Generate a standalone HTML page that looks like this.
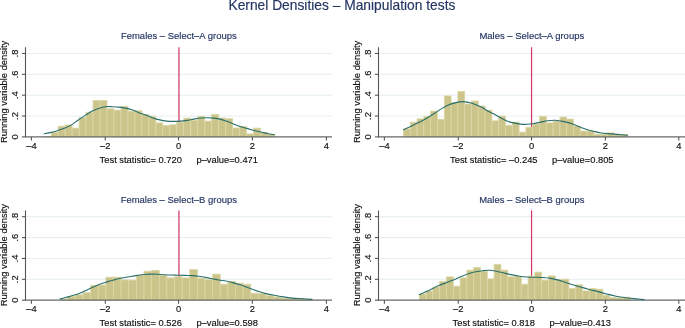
<!DOCTYPE html><html><head><meta charset="utf-8"><title>Kernel Densities – Manipulation tests</title><style>html,body{margin:0;padding:0;background:#fff;width:685px;height:328px;overflow:hidden}svg{display:block;will-change:transform}text{font-family:"Liberation Sans", sans-serif}</style></head><body>
<svg width="685" height="328" viewBox="0 0 685 328">
<rect width="685" height="328" fill="#fff"/>
<text transform="translate(341.90 10.35) scale(1 1.100)" font-size="13.80" fill="#253563" stroke="#253563" stroke-width="0.15" text-anchor="middle">Kernel Densities – Manipulation tests</text>
<g><line x1="25.50" y1="116.04" x2="332.00" y2="116.04" stroke="#e5eeef" stroke-width="1"/><line x1="25.50" y1="95.18" x2="332.00" y2="95.18" stroke="#e5eeef" stroke-width="1"/><line x1="25.50" y1="74.32" x2="332.00" y2="74.32" stroke="#e5eeef" stroke-width="1"/><line x1="25.50" y1="53.46" x2="332.00" y2="53.46" stroke="#e5eeef" stroke-width="1"/><line x1="178.95" y1="47.20" x2="178.95" y2="136.90" stroke="#d03a64" stroke-width="1.25"/><rect x="44.20" y="136.40" width="6.98" height="0.50" fill="#cbc58b" stroke="#dcd7a5" stroke-width="0.8"/><rect x="51.18" y="132.30" width="6.98" height="4.60" fill="#cbc58b" stroke="#dcd7a5" stroke-width="0.8"/><rect x="58.16" y="126.20" width="6.98" height="10.70" fill="#cbc58b" stroke="#dcd7a5" stroke-width="0.8"/><rect x="65.14" y="124.90" width="6.98" height="12.00" fill="#cbc58b" stroke="#dcd7a5" stroke-width="0.8"/><rect x="72.12" y="128.10" width="6.98" height="8.80" fill="#cbc58b" stroke="#dcd7a5" stroke-width="0.8"/><rect x="79.10" y="117.70" width="6.98" height="19.20" fill="#cbc58b" stroke="#dcd7a5" stroke-width="0.8"/><rect x="86.08" y="112.20" width="6.98" height="24.70" fill="#cbc58b" stroke="#dcd7a5" stroke-width="0.8"/><rect x="93.06" y="100.50" width="6.98" height="36.40" fill="#cbc58b" stroke="#dcd7a5" stroke-width="0.8"/><rect x="100.04" y="100.50" width="6.98" height="36.40" fill="#cbc58b" stroke="#dcd7a5" stroke-width="0.8"/><rect x="107.02" y="108.80" width="6.98" height="28.10" fill="#cbc58b" stroke="#dcd7a5" stroke-width="0.8"/><rect x="114.00" y="110.10" width="6.98" height="26.80" fill="#cbc58b" stroke="#dcd7a5" stroke-width="0.8"/><rect x="120.98" y="106.30" width="6.98" height="30.60" fill="#cbc58b" stroke="#dcd7a5" stroke-width="0.8"/><rect x="127.96" y="111.10" width="6.98" height="25.80" fill="#cbc58b" stroke="#dcd7a5" stroke-width="0.8"/><rect x="134.94" y="110.80" width="6.98" height="26.10" fill="#cbc58b" stroke="#dcd7a5" stroke-width="0.8"/><rect x="141.92" y="114.30" width="6.98" height="22.60" fill="#cbc58b" stroke="#dcd7a5" stroke-width="0.8"/><rect x="148.90" y="116.30" width="6.98" height="20.60" fill="#cbc58b" stroke="#dcd7a5" stroke-width="0.8"/><rect x="155.88" y="122.90" width="6.98" height="14.00" fill="#cbc58b" stroke="#dcd7a5" stroke-width="0.8"/><rect x="162.86" y="125.60" width="6.98" height="11.30" fill="#cbc58b" stroke="#dcd7a5" stroke-width="0.8"/><rect x="169.84" y="124.80" width="6.98" height="12.10" fill="#cbc58b" stroke="#dcd7a5" stroke-width="0.8"/><rect x="176.82" y="122.10" width="6.98" height="14.80" fill="#cbc58b" stroke="#dcd7a5" stroke-width="0.8"/><rect x="183.80" y="118.10" width="6.98" height="18.80" fill="#cbc58b" stroke="#dcd7a5" stroke-width="0.8"/><rect x="190.78" y="120.40" width="6.98" height="16.50" fill="#cbc58b" stroke="#dcd7a5" stroke-width="0.8"/><rect x="197.76" y="116.30" width="6.98" height="20.60" fill="#cbc58b" stroke="#dcd7a5" stroke-width="0.8"/><rect x="204.74" y="121.10" width="6.98" height="15.80" fill="#cbc58b" stroke="#dcd7a5" stroke-width="0.8"/><rect x="211.72" y="114.30" width="6.98" height="22.60" fill="#cbc58b" stroke="#dcd7a5" stroke-width="0.8"/><rect x="218.70" y="118.00" width="6.98" height="18.90" fill="#cbc58b" stroke="#dcd7a5" stroke-width="0.8"/><rect x="225.68" y="118.70" width="6.98" height="18.20" fill="#cbc58b" stroke="#dcd7a5" stroke-width="0.8"/><rect x="232.66" y="128.00" width="6.98" height="8.90" fill="#cbc58b" stroke="#dcd7a5" stroke-width="0.8"/><rect x="239.64" y="126.30" width="6.98" height="10.60" fill="#cbc58b" stroke="#dcd7a5" stroke-width="0.8"/><rect x="246.62" y="133.90" width="6.98" height="3.00" fill="#cbc58b" stroke="#dcd7a5" stroke-width="0.8"/><rect x="253.60" y="128.10" width="6.98" height="8.80" fill="#cbc58b" stroke="#dcd7a5" stroke-width="0.8"/><rect x="260.58" y="132.30" width="6.98" height="4.60" fill="#cbc58b" stroke="#dcd7a5" stroke-width="0.8"/><rect x="267.56" y="134.50" width="6.98" height="2.40" fill="#cbc58b" stroke="#dcd7a5" stroke-width="0.8"/><line x1="25.50" y1="136.90" x2="332.00" y2="136.90" stroke="#666a6a" stroke-width="1.1"/><path d="M44.20 133.80 C45.33 133.57 48.70 132.97 51.00 132.40 C53.30 131.83 55.67 131.13 58.00 130.40 C60.33 129.67 62.75 128.92 65.00 128.00 C67.25 127.08 69.33 126.20 71.50 124.90 C73.67 123.60 75.77 121.75 78.00 120.20 C80.23 118.65 82.62 117.10 84.90 115.60 C87.18 114.10 89.42 112.38 91.70 111.20 C93.98 110.02 96.32 109.25 98.60 108.50 C100.88 107.75 103.12 107.00 105.40 106.70 C107.68 106.40 110.05 106.63 112.30 106.70 C114.55 106.77 116.67 106.87 118.90 107.10 C121.13 107.33 123.42 107.60 125.70 108.10 C127.98 108.60 130.32 109.30 132.60 110.10 C134.88 110.90 137.12 112.05 139.40 112.90 C141.68 113.75 144.05 114.37 146.30 115.20 C148.55 116.03 150.67 117.12 152.90 117.90 C155.13 118.68 157.42 119.37 159.70 119.90 C161.98 120.43 164.32 120.85 166.60 121.10 C168.88 121.35 171.12 121.40 173.40 121.40 C175.68 121.40 178.05 121.27 180.30 121.10 C182.55 120.93 184.67 120.73 186.90 120.40 C189.13 120.07 191.42 119.50 193.70 119.10 C195.98 118.70 198.32 118.23 200.60 118.00 C202.88 117.77 205.12 117.68 207.40 117.70 C209.68 117.72 212.20 117.87 214.30 118.10 C216.40 118.33 218.05 118.62 220.00 119.10 C221.95 119.58 223.83 120.22 226.00 121.00 C228.17 121.78 230.67 122.90 233.00 123.80 C235.33 124.70 237.67 125.63 240.00 126.40 C242.33 127.17 244.67 127.72 247.00 128.40 C249.33 129.08 251.50 129.85 254.00 130.50 C256.50 131.15 259.67 131.77 262.00 132.30 C264.33 132.83 265.90 133.30 268.00 133.70 C270.10 134.10 273.50 134.53 274.60 134.70" fill="none" stroke="#2a6f6c" stroke-width="1.1" stroke-linejoin="round" stroke-linecap="round"/><line x1="25.50" y1="47.20" x2="25.50" y2="137.40" stroke="#555555" stroke-width="1.1"/><line x1="21.90" y1="136.90" x2="25.50" y2="136.90" stroke="#555555" stroke-width="1.1"/><text transform="translate(17.80 136.90) rotate(-90) scale(1 1.050)" font-size="9.35" fill="#111111" stroke="#111111" stroke-width="0.15" text-anchor="middle">0</text><line x1="21.90" y1="116.04" x2="25.50" y2="116.04" stroke="#555555" stroke-width="1.1"/><text transform="translate(17.80 116.04) rotate(-90) scale(1 1.050)" font-size="9.35" fill="#111111" stroke="#111111" stroke-width="0.15" text-anchor="middle">.2</text><line x1="21.90" y1="95.18" x2="25.50" y2="95.18" stroke="#555555" stroke-width="1.1"/><text transform="translate(17.80 95.18) rotate(-90) scale(1 1.050)" font-size="9.35" fill="#111111" stroke="#111111" stroke-width="0.15" text-anchor="middle">.4</text><line x1="21.90" y1="74.32" x2="25.50" y2="74.32" stroke="#555555" stroke-width="1.1"/><text transform="translate(17.80 74.32) rotate(-90) scale(1 1.050)" font-size="9.35" fill="#111111" stroke="#111111" stroke-width="0.15" text-anchor="middle">.6</text><line x1="21.90" y1="53.46" x2="25.50" y2="53.46" stroke="#555555" stroke-width="1.1"/><text transform="translate(17.80 53.46) rotate(-90) scale(1 1.050)" font-size="9.35" fill="#111111" stroke="#111111" stroke-width="0.15" text-anchor="middle">.8</text><line x1="31.40" y1="136.90" x2="31.40" y2="140.50" stroke="#555555" stroke-width="1.1"/><text transform="translate(31.40 148.80) scale(1 1.050)" font-size="9.35" fill="#111111" stroke="#111111" stroke-width="0.15" text-anchor="middle">–4</text><line x1="105.30" y1="136.90" x2="105.30" y2="140.50" stroke="#555555" stroke-width="1.1"/><text transform="translate(105.30 148.80) scale(1 1.050)" font-size="9.35" fill="#111111" stroke="#111111" stroke-width="0.15" text-anchor="middle">–2</text><line x1="178.55" y1="136.90" x2="178.55" y2="140.50" stroke="#555555" stroke-width="1.1"/><text transform="translate(178.55 148.80) scale(1 1.050)" font-size="9.35" fill="#111111" stroke="#111111" stroke-width="0.15" text-anchor="middle">0</text><line x1="252.40" y1="136.90" x2="252.40" y2="140.50" stroke="#555555" stroke-width="1.1"/><text transform="translate(252.40 148.80) scale(1 1.050)" font-size="9.35" fill="#111111" stroke="#111111" stroke-width="0.15" text-anchor="middle">2</text><line x1="326.40" y1="136.90" x2="326.40" y2="140.50" stroke="#555555" stroke-width="1.1"/><text transform="translate(326.40 148.80) scale(1 1.050)" font-size="9.35" fill="#111111" stroke="#111111" stroke-width="0.15" text-anchor="middle">4</text><text transform="translate(6.90 91.90) rotate(-90) scale(1 1.050)" font-size="9.35" fill="#111111" stroke="#111111" stroke-width="0.15" text-anchor="middle">Running variable density</text><text transform="translate(178.80 39.25) scale(1 1.050)" font-size="9.48" fill="#253563" stroke="#253563" stroke-width="0.15" text-anchor="middle">Females – Select–A groups</text><text transform="translate(178.80 162.60) scale(1 1.050)" font-size="9.35" fill="#111111" stroke="#111111" stroke-width="0.15" text-anchor="middle">Test statistic= 0.720<tspan dx="14.5">p–value=0.471</tspan></text></g>
<g><line x1="378.50" y1="116.04" x2="685.00" y2="116.04" stroke="#e5eeef" stroke-width="1"/><line x1="378.50" y1="95.18" x2="685.00" y2="95.18" stroke="#e5eeef" stroke-width="1"/><line x1="378.50" y1="74.32" x2="685.00" y2="74.32" stroke="#e5eeef" stroke-width="1"/><line x1="378.50" y1="53.46" x2="685.00" y2="53.46" stroke="#e5eeef" stroke-width="1"/><line x1="531.55" y1="47.20" x2="531.55" y2="136.90" stroke="#d03a64" stroke-width="1.25"/><rect x="403.50" y="128.90" width="6.80" height="8.00" fill="#cbc58b" stroke="#dcd7a5" stroke-width="0.8"/><rect x="410.30" y="122.20" width="6.80" height="14.70" fill="#cbc58b" stroke="#dcd7a5" stroke-width="0.8"/><rect x="417.10" y="118.80" width="6.80" height="18.10" fill="#cbc58b" stroke="#dcd7a5" stroke-width="0.8"/><rect x="423.90" y="116.30" width="6.80" height="20.60" fill="#cbc58b" stroke="#dcd7a5" stroke-width="0.8"/><rect x="430.70" y="111.10" width="6.80" height="25.80" fill="#cbc58b" stroke="#dcd7a5" stroke-width="0.8"/><rect x="437.50" y="119.30" width="6.80" height="17.60" fill="#cbc58b" stroke="#dcd7a5" stroke-width="0.8"/><rect x="444.30" y="95.90" width="6.80" height="41.00" fill="#cbc58b" stroke="#dcd7a5" stroke-width="0.8"/><rect x="451.10" y="102.50" width="6.80" height="34.40" fill="#cbc58b" stroke="#dcd7a5" stroke-width="0.8"/><rect x="457.90" y="91.40" width="6.80" height="45.50" fill="#cbc58b" stroke="#dcd7a5" stroke-width="0.8"/><rect x="464.70" y="104.00" width="6.80" height="32.90" fill="#cbc58b" stroke="#dcd7a5" stroke-width="0.8"/><rect x="471.50" y="101.00" width="6.80" height="35.90" fill="#cbc58b" stroke="#dcd7a5" stroke-width="0.8"/><rect x="478.30" y="106.00" width="6.80" height="30.90" fill="#cbc58b" stroke="#dcd7a5" stroke-width="0.8"/><rect x="485.10" y="110.10" width="6.80" height="26.80" fill="#cbc58b" stroke="#dcd7a5" stroke-width="0.8"/><rect x="491.90" y="120.80" width="6.80" height="16.10" fill="#cbc58b" stroke="#dcd7a5" stroke-width="0.8"/><rect x="498.70" y="116.10" width="6.80" height="20.80" fill="#cbc58b" stroke="#dcd7a5" stroke-width="0.8"/><rect x="505.50" y="125.20" width="6.80" height="11.70" fill="#cbc58b" stroke="#dcd7a5" stroke-width="0.8"/><rect x="512.30" y="122.10" width="6.80" height="14.80" fill="#cbc58b" stroke="#dcd7a5" stroke-width="0.8"/><rect x="519.10" y="132.10" width="6.80" height="4.80" fill="#cbc58b" stroke="#dcd7a5" stroke-width="0.8"/><rect x="525.90" y="127.30" width="6.80" height="9.60" fill="#cbc58b" stroke="#dcd7a5" stroke-width="0.8"/><rect x="532.70" y="124.00" width="6.80" height="12.90" fill="#cbc58b" stroke="#dcd7a5" stroke-width="0.8"/><rect x="539.50" y="116.30" width="6.80" height="20.60" fill="#cbc58b" stroke="#dcd7a5" stroke-width="0.8"/><rect x="546.30" y="122.90" width="6.80" height="14.00" fill="#cbc58b" stroke="#dcd7a5" stroke-width="0.8"/><rect x="553.10" y="121.10" width="6.80" height="15.80" fill="#cbc58b" stroke="#dcd7a5" stroke-width="0.8"/><rect x="559.90" y="117.00" width="6.80" height="19.90" fill="#cbc58b" stroke="#dcd7a5" stroke-width="0.8"/><rect x="566.70" y="119.10" width="6.80" height="17.80" fill="#cbc58b" stroke="#dcd7a5" stroke-width="0.8"/><rect x="573.50" y="126.00" width="6.80" height="10.90" fill="#cbc58b" stroke="#dcd7a5" stroke-width="0.8"/><rect x="580.30" y="131.00" width="6.80" height="5.90" fill="#cbc58b" stroke="#dcd7a5" stroke-width="0.8"/><rect x="587.10" y="131.00" width="6.80" height="5.90" fill="#cbc58b" stroke="#dcd7a5" stroke-width="0.8"/><rect x="593.90" y="134.20" width="6.80" height="2.70" fill="#cbc58b" stroke="#dcd7a5" stroke-width="0.8"/><rect x="600.70" y="134.20" width="6.80" height="2.70" fill="#cbc58b" stroke="#dcd7a5" stroke-width="0.8"/><rect x="607.50" y="132.90" width="6.80" height="4.00" fill="#cbc58b" stroke="#dcd7a5" stroke-width="0.8"/><rect x="614.30" y="134.30" width="6.80" height="2.60" fill="#cbc58b" stroke="#dcd7a5" stroke-width="0.8"/><rect x="621.10" y="134.50" width="6.80" height="2.40" fill="#cbc58b" stroke="#dcd7a5" stroke-width="0.8"/><line x1="378.50" y1="136.90" x2="685.00" y2="136.90" stroke="#666a6a" stroke-width="1.1"/><path d="M403.50 129.80 C404.87 129.15 409.18 127.12 411.70 125.90 C414.22 124.68 416.32 123.65 418.60 122.50 C420.88 121.35 423.12 120.28 425.40 119.00 C427.68 117.72 430.12 116.20 432.30 114.80 C434.48 113.40 436.02 112.15 438.50 110.60 C440.98 109.05 444.47 106.78 447.20 105.50 C449.93 104.22 452.35 103.55 454.90 102.90 C457.45 102.25 459.65 101.55 462.50 101.60 C465.35 101.65 468.88 102.28 472.00 103.20 C475.12 104.12 478.38 105.70 481.20 107.10 C484.02 108.50 486.35 110.22 488.90 111.60 C491.45 112.98 493.50 113.85 496.50 115.40 C499.50 116.95 504.03 119.65 506.90 120.90 C509.77 122.15 511.42 122.37 513.70 122.90 C515.98 123.43 518.32 123.87 520.60 124.10 C522.88 124.33 525.12 124.42 527.40 124.30 C529.68 124.18 532.05 123.77 534.30 123.40 C536.55 123.03 538.67 122.53 540.90 122.10 C543.13 121.67 545.42 121.12 547.70 120.80 C549.98 120.48 552.32 120.15 554.60 120.20 C556.88 120.25 559.12 120.70 561.40 121.10 C563.68 121.50 566.32 122.07 568.30 122.60 C570.28 123.13 571.57 123.65 573.30 124.30 C575.03 124.95 576.92 125.78 578.70 126.50 C580.48 127.22 582.23 127.97 584.00 128.60 C585.77 129.23 587.52 129.80 589.30 130.30 C591.08 130.80 592.92 131.20 594.70 131.60 C596.48 132.00 597.78 132.37 600.00 132.70 C602.22 133.03 605.17 133.32 608.00 133.60 C610.83 133.88 613.75 134.13 617.00 134.40 C620.25 134.67 625.75 135.07 627.50 135.20" fill="none" stroke="#2a6f6c" stroke-width="1.1" stroke-linejoin="round" stroke-linecap="round"/><line x1="378.50" y1="47.20" x2="378.50" y2="137.40" stroke="#555555" stroke-width="1.1"/><line x1="374.90" y1="136.90" x2="378.50" y2="136.90" stroke="#555555" stroke-width="1.1"/><text transform="translate(370.80 136.90) rotate(-90) scale(1 1.050)" font-size="9.35" fill="#111111" stroke="#111111" stroke-width="0.15" text-anchor="middle">0</text><line x1="374.90" y1="116.04" x2="378.50" y2="116.04" stroke="#555555" stroke-width="1.1"/><text transform="translate(370.80 116.04) rotate(-90) scale(1 1.050)" font-size="9.35" fill="#111111" stroke="#111111" stroke-width="0.15" text-anchor="middle">.2</text><line x1="374.90" y1="95.18" x2="378.50" y2="95.18" stroke="#555555" stroke-width="1.1"/><text transform="translate(370.80 95.18) rotate(-90) scale(1 1.050)" font-size="9.35" fill="#111111" stroke="#111111" stroke-width="0.15" text-anchor="middle">.4</text><line x1="374.90" y1="74.32" x2="378.50" y2="74.32" stroke="#555555" stroke-width="1.1"/><text transform="translate(370.80 74.32) rotate(-90) scale(1 1.050)" font-size="9.35" fill="#111111" stroke="#111111" stroke-width="0.15" text-anchor="middle">.6</text><line x1="374.90" y1="53.46" x2="378.50" y2="53.46" stroke="#555555" stroke-width="1.1"/><text transform="translate(370.80 53.46) rotate(-90) scale(1 1.050)" font-size="9.35" fill="#111111" stroke="#111111" stroke-width="0.15" text-anchor="middle">.8</text><line x1="384.40" y1="136.90" x2="384.40" y2="140.50" stroke="#555555" stroke-width="1.1"/><text transform="translate(384.40 148.80) scale(1 1.050)" font-size="9.35" fill="#111111" stroke="#111111" stroke-width="0.15" text-anchor="middle">–4</text><line x1="458.30" y1="136.90" x2="458.30" y2="140.50" stroke="#555555" stroke-width="1.1"/><text transform="translate(458.30 148.80) scale(1 1.050)" font-size="9.35" fill="#111111" stroke="#111111" stroke-width="0.15" text-anchor="middle">–2</text><line x1="531.55" y1="136.90" x2="531.55" y2="140.50" stroke="#555555" stroke-width="1.1"/><text transform="translate(531.55 148.80) scale(1 1.050)" font-size="9.35" fill="#111111" stroke="#111111" stroke-width="0.15" text-anchor="middle">0</text><line x1="605.40" y1="136.90" x2="605.40" y2="140.50" stroke="#555555" stroke-width="1.1"/><text transform="translate(605.40 148.80) scale(1 1.050)" font-size="9.35" fill="#111111" stroke="#111111" stroke-width="0.15" text-anchor="middle">2</text><line x1="678.80" y1="136.90" x2="678.80" y2="140.50" stroke="#555555" stroke-width="1.1"/><text transform="translate(678.80 148.80) scale(1 1.050)" font-size="9.35" fill="#111111" stroke="#111111" stroke-width="0.15" text-anchor="middle">4</text><text transform="translate(359.90 91.90) rotate(-90) scale(1 1.050)" font-size="9.35" fill="#111111" stroke="#111111" stroke-width="0.15" text-anchor="middle">Running variable density</text><text transform="translate(531.80 39.25) scale(1 1.050)" font-size="9.48" fill="#253563" stroke="#253563" stroke-width="0.15" text-anchor="middle">Males – Select–A groups</text><text transform="translate(531.80 162.60) scale(1 1.050)" font-size="9.35" fill="#111111" stroke="#111111" stroke-width="0.15" text-anchor="middle">Test statistic= –0.245<tspan dx="14.5">p–value=0.805</tspan></text></g>
<g><line x1="25.50" y1="279.29" x2="332.00" y2="279.29" stroke="#e5eeef" stroke-width="1"/><line x1="25.50" y1="258.43" x2="332.00" y2="258.43" stroke="#e5eeef" stroke-width="1"/><line x1="25.50" y1="237.57" x2="332.00" y2="237.57" stroke="#e5eeef" stroke-width="1"/><line x1="25.50" y1="216.71" x2="332.00" y2="216.71" stroke="#e5eeef" stroke-width="1"/><line x1="178.95" y1="210.45" x2="178.95" y2="300.15" stroke="#d03a64" stroke-width="1.25"/><rect x="60.10" y="298.90" width="7.63" height="1.25" fill="#cbc58b" stroke="#dcd7a5" stroke-width="0.8"/><rect x="67.73" y="296.40" width="7.63" height="3.75" fill="#cbc58b" stroke="#dcd7a5" stroke-width="0.8"/><rect x="75.35" y="294.80" width="7.63" height="5.35" fill="#cbc58b" stroke="#dcd7a5" stroke-width="0.8"/><rect x="82.98" y="292.70" width="7.63" height="7.45" fill="#cbc58b" stroke="#dcd7a5" stroke-width="0.8"/><rect x="90.61" y="285.30" width="7.63" height="14.85" fill="#cbc58b" stroke="#dcd7a5" stroke-width="0.8"/><rect x="98.23" y="285.00" width="7.63" height="15.15" fill="#cbc58b" stroke="#dcd7a5" stroke-width="0.8"/><rect x="105.86" y="277.20" width="7.63" height="22.95" fill="#cbc58b" stroke="#dcd7a5" stroke-width="0.8"/><rect x="113.49" y="277.20" width="7.63" height="22.95" fill="#cbc58b" stroke="#dcd7a5" stroke-width="0.8"/><rect x="121.12" y="279.90" width="7.63" height="20.25" fill="#cbc58b" stroke="#dcd7a5" stroke-width="0.8"/><rect x="128.74" y="280.10" width="7.63" height="20.05" fill="#cbc58b" stroke="#dcd7a5" stroke-width="0.8"/><rect x="136.37" y="275.20" width="7.63" height="24.95" fill="#cbc58b" stroke="#dcd7a5" stroke-width="0.8"/><rect x="144.00" y="271.20" width="7.63" height="28.95" fill="#cbc58b" stroke="#dcd7a5" stroke-width="0.8"/><rect x="151.62" y="270.30" width="7.63" height="29.85" fill="#cbc58b" stroke="#dcd7a5" stroke-width="0.8"/><rect x="159.25" y="275.40" width="7.63" height="24.75" fill="#cbc58b" stroke="#dcd7a5" stroke-width="0.8"/><rect x="166.88" y="277.90" width="7.63" height="22.25" fill="#cbc58b" stroke="#dcd7a5" stroke-width="0.8"/><rect x="174.50" y="276.80" width="7.63" height="23.35" fill="#cbc58b" stroke="#dcd7a5" stroke-width="0.8"/><rect x="182.13" y="277.90" width="7.63" height="22.25" fill="#cbc58b" stroke="#dcd7a5" stroke-width="0.8"/><rect x="189.76" y="269.40" width="7.63" height="30.75" fill="#cbc58b" stroke="#dcd7a5" stroke-width="0.8"/><rect x="197.39" y="278.10" width="7.63" height="22.05" fill="#cbc58b" stroke="#dcd7a5" stroke-width="0.8"/><rect x="205.01" y="279.70" width="7.63" height="20.45" fill="#cbc58b" stroke="#dcd7a5" stroke-width="0.8"/><rect x="212.64" y="274.10" width="7.63" height="26.05" fill="#cbc58b" stroke="#dcd7a5" stroke-width="0.8"/><rect x="220.27" y="284.20" width="7.63" height="15.95" fill="#cbc58b" stroke="#dcd7a5" stroke-width="0.8"/><rect x="227.89" y="281.50" width="7.63" height="18.65" fill="#cbc58b" stroke="#dcd7a5" stroke-width="0.8"/><rect x="235.52" y="283.20" width="7.63" height="16.95" fill="#cbc58b" stroke="#dcd7a5" stroke-width="0.8"/><rect x="243.15" y="284.20" width="7.63" height="15.95" fill="#cbc58b" stroke="#dcd7a5" stroke-width="0.8"/><rect x="250.77" y="293.20" width="7.63" height="6.95" fill="#cbc58b" stroke="#dcd7a5" stroke-width="0.8"/><rect x="258.40" y="293.50" width="7.63" height="6.65" fill="#cbc58b" stroke="#dcd7a5" stroke-width="0.8"/><rect x="266.03" y="295.60" width="7.63" height="4.55" fill="#cbc58b" stroke="#dcd7a5" stroke-width="0.8"/><rect x="273.66" y="296.90" width="7.63" height="3.25" fill="#cbc58b" stroke="#dcd7a5" stroke-width="0.8"/><rect x="281.28" y="298.10" width="7.63" height="2.05" fill="#cbc58b" stroke="#dcd7a5" stroke-width="0.8"/><rect x="288.91" y="298.50" width="7.63" height="1.65" fill="#cbc58b" stroke="#dcd7a5" stroke-width="0.8"/><rect x="296.54" y="298.70" width="7.63" height="1.45" fill="#cbc58b" stroke="#dcd7a5" stroke-width="0.8"/><rect x="304.16" y="299.20" width="7.63" height="0.95" fill="#cbc58b" stroke="#dcd7a5" stroke-width="0.8"/><line x1="25.50" y1="300.15" x2="332.00" y2="300.15" stroke="#666a6a" stroke-width="1.1"/><path d="M60.20 298.90 C60.97 298.70 63.32 298.08 64.80 297.70 C66.28 297.32 67.65 297.00 69.10 296.60 C70.55 296.20 72.03 295.75 73.50 295.30 C74.97 294.85 76.43 294.42 77.90 293.90 C79.37 293.38 80.85 292.82 82.30 292.20 C83.75 291.58 85.15 290.88 86.60 290.20 C88.05 289.52 89.53 288.78 91.00 288.10 C92.47 287.42 93.93 286.73 95.40 286.10 C96.87 285.47 98.33 284.85 99.80 284.30 C101.27 283.75 102.75 283.28 104.20 282.80 C105.65 282.32 107.05 281.83 108.50 281.40 C109.95 280.97 111.40 280.60 112.90 280.20 C114.40 279.80 115.72 279.40 117.50 279.00 C119.28 278.60 121.40 278.22 123.60 277.80 C125.80 277.38 128.40 276.90 130.70 276.50 C133.00 276.10 135.17 275.73 137.40 275.40 C139.63 275.07 141.87 274.72 144.10 274.50 C146.33 274.28 148.55 274.13 150.80 274.10 C153.05 274.07 155.40 274.18 157.60 274.30 C159.80 274.42 161.70 274.68 164.00 274.80 C166.30 274.92 169.07 274.93 171.40 275.00 C173.73 275.07 175.77 275.13 178.00 275.20 C180.23 275.27 182.47 275.33 184.80 275.40 C187.13 275.47 189.68 275.47 192.00 275.60 C194.32 275.73 196.47 275.90 198.70 276.20 C200.93 276.50 203.17 276.98 205.40 277.40 C207.63 277.82 209.87 278.27 212.10 278.70 C214.33 279.13 216.48 279.62 218.80 280.00 C221.12 280.38 223.68 280.57 226.00 281.00 C228.32 281.43 230.47 282.00 232.70 282.60 C234.93 283.20 237.17 283.88 239.40 284.60 C241.63 285.32 243.87 286.10 246.10 286.90 C248.33 287.70 250.55 288.58 252.80 289.40 C255.05 290.22 257.40 291.10 259.60 291.80 C261.80 292.50 263.55 293.02 266.00 293.60 C268.45 294.18 271.40 294.75 274.30 295.30 C277.20 295.85 280.35 296.43 283.40 296.90 C286.45 297.37 289.55 297.80 292.60 298.10 C295.65 298.40 298.47 298.48 301.70 298.70 C304.93 298.92 310.28 299.28 312.00 299.40" fill="none" stroke="#2a6f6c" stroke-width="1.1" stroke-linejoin="round" stroke-linecap="round"/><line x1="25.50" y1="210.45" x2="25.50" y2="300.65" stroke="#555555" stroke-width="1.1"/><line x1="21.90" y1="300.15" x2="25.50" y2="300.15" stroke="#555555" stroke-width="1.1"/><text transform="translate(17.80 300.15) rotate(-90) scale(1 1.050)" font-size="9.35" fill="#111111" stroke="#111111" stroke-width="0.15" text-anchor="middle">0</text><line x1="21.90" y1="279.29" x2="25.50" y2="279.29" stroke="#555555" stroke-width="1.1"/><text transform="translate(17.80 279.29) rotate(-90) scale(1 1.050)" font-size="9.35" fill="#111111" stroke="#111111" stroke-width="0.15" text-anchor="middle">.2</text><line x1="21.90" y1="258.43" x2="25.50" y2="258.43" stroke="#555555" stroke-width="1.1"/><text transform="translate(17.80 258.43) rotate(-90) scale(1 1.050)" font-size="9.35" fill="#111111" stroke="#111111" stroke-width="0.15" text-anchor="middle">.4</text><line x1="21.90" y1="237.57" x2="25.50" y2="237.57" stroke="#555555" stroke-width="1.1"/><text transform="translate(17.80 237.57) rotate(-90) scale(1 1.050)" font-size="9.35" fill="#111111" stroke="#111111" stroke-width="0.15" text-anchor="middle">.6</text><line x1="21.90" y1="216.71" x2="25.50" y2="216.71" stroke="#555555" stroke-width="1.1"/><text transform="translate(17.80 216.71) rotate(-90) scale(1 1.050)" font-size="9.35" fill="#111111" stroke="#111111" stroke-width="0.15" text-anchor="middle">.8</text><line x1="31.40" y1="300.15" x2="31.40" y2="303.75" stroke="#555555" stroke-width="1.1"/><text transform="translate(31.40 312.05) scale(1 1.050)" font-size="9.35" fill="#111111" stroke="#111111" stroke-width="0.15" text-anchor="middle">–4</text><line x1="105.30" y1="300.15" x2="105.30" y2="303.75" stroke="#555555" stroke-width="1.1"/><text transform="translate(105.30 312.05) scale(1 1.050)" font-size="9.35" fill="#111111" stroke="#111111" stroke-width="0.15" text-anchor="middle">–2</text><line x1="178.55" y1="300.15" x2="178.55" y2="303.75" stroke="#555555" stroke-width="1.1"/><text transform="translate(178.55 312.05) scale(1 1.050)" font-size="9.35" fill="#111111" stroke="#111111" stroke-width="0.15" text-anchor="middle">0</text><line x1="252.40" y1="300.15" x2="252.40" y2="303.75" stroke="#555555" stroke-width="1.1"/><text transform="translate(252.40 312.05) scale(1 1.050)" font-size="9.35" fill="#111111" stroke="#111111" stroke-width="0.15" text-anchor="middle">2</text><line x1="326.40" y1="300.15" x2="326.40" y2="303.75" stroke="#555555" stroke-width="1.1"/><text transform="translate(326.40 312.05) scale(1 1.050)" font-size="9.35" fill="#111111" stroke="#111111" stroke-width="0.15" text-anchor="middle">4</text><text transform="translate(6.90 255.15) rotate(-90) scale(1 1.050)" font-size="9.35" fill="#111111" stroke="#111111" stroke-width="0.15" text-anchor="middle">Running variable density</text><text transform="translate(178.80 202.50) scale(1 1.050)" font-size="9.48" fill="#253563" stroke="#253563" stroke-width="0.15" text-anchor="middle">Females – Select–B groups</text><text transform="translate(178.80 325.85) scale(1 1.050)" font-size="9.35" fill="#111111" stroke="#111111" stroke-width="0.15" text-anchor="middle">Test statistic= 0.526<tspan dx="14.5">p–value=0.598</tspan></text></g>
<g><line x1="378.50" y1="279.29" x2="685.00" y2="279.29" stroke="#e5eeef" stroke-width="1"/><line x1="378.50" y1="258.43" x2="685.00" y2="258.43" stroke="#e5eeef" stroke-width="1"/><line x1="378.50" y1="237.57" x2="685.00" y2="237.57" stroke="#e5eeef" stroke-width="1"/><line x1="378.50" y1="216.71" x2="685.00" y2="216.71" stroke="#e5eeef" stroke-width="1"/><line x1="531.55" y1="210.45" x2="531.55" y2="300.15" stroke="#d03a64" stroke-width="1.25"/><rect x="419.30" y="294.00" width="6.80" height="6.15" fill="#cbc58b" stroke="#dcd7a5" stroke-width="0.8"/><rect x="426.10" y="291.00" width="6.80" height="9.15" fill="#cbc58b" stroke="#dcd7a5" stroke-width="0.8"/><rect x="432.90" y="287.00" width="6.80" height="13.15" fill="#cbc58b" stroke="#dcd7a5" stroke-width="0.8"/><rect x="439.70" y="281.30" width="6.80" height="18.85" fill="#cbc58b" stroke="#dcd7a5" stroke-width="0.8"/><rect x="446.50" y="276.90" width="6.80" height="23.25" fill="#cbc58b" stroke="#dcd7a5" stroke-width="0.8"/><rect x="453.30" y="286.20" width="6.80" height="13.95" fill="#cbc58b" stroke="#dcd7a5" stroke-width="0.8"/><rect x="460.10" y="277.90" width="6.80" height="22.25" fill="#cbc58b" stroke="#dcd7a5" stroke-width="0.8"/><rect x="466.90" y="270.10" width="6.80" height="30.05" fill="#cbc58b" stroke="#dcd7a5" stroke-width="0.8"/><rect x="473.70" y="267.40" width="6.80" height="32.75" fill="#cbc58b" stroke="#dcd7a5" stroke-width="0.8"/><rect x="480.50" y="271.40" width="6.80" height="28.75" fill="#cbc58b" stroke="#dcd7a5" stroke-width="0.8"/><rect x="487.30" y="278.80" width="6.80" height="21.35" fill="#cbc58b" stroke="#dcd7a5" stroke-width="0.8"/><rect x="494.10" y="264.30" width="6.80" height="35.85" fill="#cbc58b" stroke="#dcd7a5" stroke-width="0.8"/><rect x="500.90" y="270.10" width="6.80" height="30.05" fill="#cbc58b" stroke="#dcd7a5" stroke-width="0.8"/><rect x="507.70" y="276.80" width="6.80" height="23.35" fill="#cbc58b" stroke="#dcd7a5" stroke-width="0.8"/><rect x="514.50" y="276.40" width="6.80" height="23.75" fill="#cbc58b" stroke="#dcd7a5" stroke-width="0.8"/><rect x="521.30" y="284.20" width="6.80" height="15.95" fill="#cbc58b" stroke="#dcd7a5" stroke-width="0.8"/><rect x="528.10" y="276.10" width="6.80" height="24.05" fill="#cbc58b" stroke="#dcd7a5" stroke-width="0.8"/><rect x="534.90" y="272.10" width="6.80" height="28.05" fill="#cbc58b" stroke="#dcd7a5" stroke-width="0.8"/><rect x="541.70" y="280.10" width="6.80" height="20.05" fill="#cbc58b" stroke="#dcd7a5" stroke-width="0.8"/><rect x="548.50" y="275.90" width="6.80" height="24.25" fill="#cbc58b" stroke="#dcd7a5" stroke-width="0.8"/><rect x="555.30" y="279.50" width="6.80" height="20.65" fill="#cbc58b" stroke="#dcd7a5" stroke-width="0.8"/><rect x="562.10" y="279.20" width="6.80" height="20.95" fill="#cbc58b" stroke="#dcd7a5" stroke-width="0.8"/><rect x="568.90" y="288.60" width="6.80" height="11.55" fill="#cbc58b" stroke="#dcd7a5" stroke-width="0.8"/><rect x="575.70" y="284.80" width="6.80" height="15.35" fill="#cbc58b" stroke="#dcd7a5" stroke-width="0.8"/><rect x="582.50" y="290.90" width="6.80" height="9.25" fill="#cbc58b" stroke="#dcd7a5" stroke-width="0.8"/><rect x="589.30" y="288.50" width="6.80" height="11.65" fill="#cbc58b" stroke="#dcd7a5" stroke-width="0.8"/><rect x="596.10" y="289.20" width="6.80" height="10.95" fill="#cbc58b" stroke="#dcd7a5" stroke-width="0.8"/><rect x="602.90" y="295.20" width="6.80" height="4.95" fill="#cbc58b" stroke="#dcd7a5" stroke-width="0.8"/><rect x="609.70" y="297.50" width="6.80" height="2.65" fill="#cbc58b" stroke="#dcd7a5" stroke-width="0.8"/><rect x="616.50" y="297.80" width="6.80" height="2.35" fill="#cbc58b" stroke="#dcd7a5" stroke-width="0.8"/><rect x="623.30" y="297.20" width="6.80" height="2.95" fill="#cbc58b" stroke="#dcd7a5" stroke-width="0.8"/><line x1="378.50" y1="300.15" x2="685.00" y2="300.15" stroke="#666a6a" stroke-width="1.1"/><path d="M419.30 294.70 C420.62 294.13 424.87 292.38 427.20 291.30 C429.53 290.22 431.27 289.22 433.30 288.20 C435.33 287.18 437.37 286.07 439.40 285.20 C441.43 284.33 443.47 283.77 445.50 283.00 C447.53 282.23 449.90 281.28 451.60 280.60 C453.30 279.92 453.90 279.67 455.70 278.90 C457.50 278.13 460.17 276.92 462.40 276.00 C464.63 275.08 466.87 274.12 469.10 273.40 C471.33 272.68 473.55 272.15 475.80 271.70 C478.05 271.25 480.35 270.93 482.60 270.70 C484.85 270.47 487.00 270.22 489.30 270.30 C491.60 270.38 494.10 270.78 496.40 271.20 C498.70 271.62 500.87 272.27 503.10 272.80 C505.33 273.33 507.55 273.93 509.80 274.40 C512.05 274.87 514.33 275.22 516.60 275.60 C518.87 275.98 521.10 276.43 523.40 276.70 C525.70 276.97 528.12 277.12 530.40 277.20 C532.68 277.28 534.87 277.15 537.10 277.20 C539.33 277.25 541.55 277.30 543.80 277.50 C546.05 277.70 548.32 278.00 550.60 278.40 C552.88 278.80 555.20 279.28 557.50 279.90 C559.80 280.52 562.13 281.38 564.40 282.10 C566.67 282.82 568.87 283.52 571.10 284.20 C573.33 284.88 575.55 285.55 577.80 286.20 C580.05 286.85 582.40 287.47 584.60 288.10 C586.80 288.73 589.20 289.53 591.00 290.00 C592.80 290.47 592.95 290.28 595.40 290.90 C597.85 291.52 602.25 292.82 605.70 293.70 C609.15 294.58 612.63 295.52 616.10 296.20 C619.57 296.88 623.05 297.35 626.50 297.80 C629.95 298.25 633.88 298.60 636.80 298.90 C639.72 299.20 642.80 299.48 644.00 299.60" fill="none" stroke="#2a6f6c" stroke-width="1.1" stroke-linejoin="round" stroke-linecap="round"/><line x1="378.50" y1="210.45" x2="378.50" y2="300.65" stroke="#555555" stroke-width="1.1"/><line x1="374.90" y1="300.15" x2="378.50" y2="300.15" stroke="#555555" stroke-width="1.1"/><text transform="translate(370.80 300.15) rotate(-90) scale(1 1.050)" font-size="9.35" fill="#111111" stroke="#111111" stroke-width="0.15" text-anchor="middle">0</text><line x1="374.90" y1="279.29" x2="378.50" y2="279.29" stroke="#555555" stroke-width="1.1"/><text transform="translate(370.80 279.29) rotate(-90) scale(1 1.050)" font-size="9.35" fill="#111111" stroke="#111111" stroke-width="0.15" text-anchor="middle">.2</text><line x1="374.90" y1="258.43" x2="378.50" y2="258.43" stroke="#555555" stroke-width="1.1"/><text transform="translate(370.80 258.43) rotate(-90) scale(1 1.050)" font-size="9.35" fill="#111111" stroke="#111111" stroke-width="0.15" text-anchor="middle">.4</text><line x1="374.90" y1="237.57" x2="378.50" y2="237.57" stroke="#555555" stroke-width="1.1"/><text transform="translate(370.80 237.57) rotate(-90) scale(1 1.050)" font-size="9.35" fill="#111111" stroke="#111111" stroke-width="0.15" text-anchor="middle">.6</text><line x1="374.90" y1="216.71" x2="378.50" y2="216.71" stroke="#555555" stroke-width="1.1"/><text transform="translate(370.80 216.71) rotate(-90) scale(1 1.050)" font-size="9.35" fill="#111111" stroke="#111111" stroke-width="0.15" text-anchor="middle">.8</text><line x1="384.40" y1="300.15" x2="384.40" y2="303.75" stroke="#555555" stroke-width="1.1"/><text transform="translate(384.40 312.05) scale(1 1.050)" font-size="9.35" fill="#111111" stroke="#111111" stroke-width="0.15" text-anchor="middle">–4</text><line x1="458.30" y1="300.15" x2="458.30" y2="303.75" stroke="#555555" stroke-width="1.1"/><text transform="translate(458.30 312.05) scale(1 1.050)" font-size="9.35" fill="#111111" stroke="#111111" stroke-width="0.15" text-anchor="middle">–2</text><line x1="531.55" y1="300.15" x2="531.55" y2="303.75" stroke="#555555" stroke-width="1.1"/><text transform="translate(531.55 312.05) scale(1 1.050)" font-size="9.35" fill="#111111" stroke="#111111" stroke-width="0.15" text-anchor="middle">0</text><line x1="605.40" y1="300.15" x2="605.40" y2="303.75" stroke="#555555" stroke-width="1.1"/><text transform="translate(605.40 312.05) scale(1 1.050)" font-size="9.35" fill="#111111" stroke="#111111" stroke-width="0.15" text-anchor="middle">2</text><line x1="678.80" y1="300.15" x2="678.80" y2="303.75" stroke="#555555" stroke-width="1.1"/><text transform="translate(678.80 312.05) scale(1 1.050)" font-size="9.35" fill="#111111" stroke="#111111" stroke-width="0.15" text-anchor="middle">4</text><text transform="translate(359.90 255.15) rotate(-90) scale(1 1.050)" font-size="9.35" fill="#111111" stroke="#111111" stroke-width="0.15" text-anchor="middle">Running variable density</text><text transform="translate(531.80 202.50) scale(1 1.050)" font-size="9.48" fill="#253563" stroke="#253563" stroke-width="0.15" text-anchor="middle">Males – Select–B groups</text><text transform="translate(531.80 325.85) scale(1 1.050)" font-size="9.35" fill="#111111" stroke="#111111" stroke-width="0.15" text-anchor="middle">Test statistic= 0.818<tspan dx="14.5">p–value=0.413</tspan></text></g>
</svg></body></html>
